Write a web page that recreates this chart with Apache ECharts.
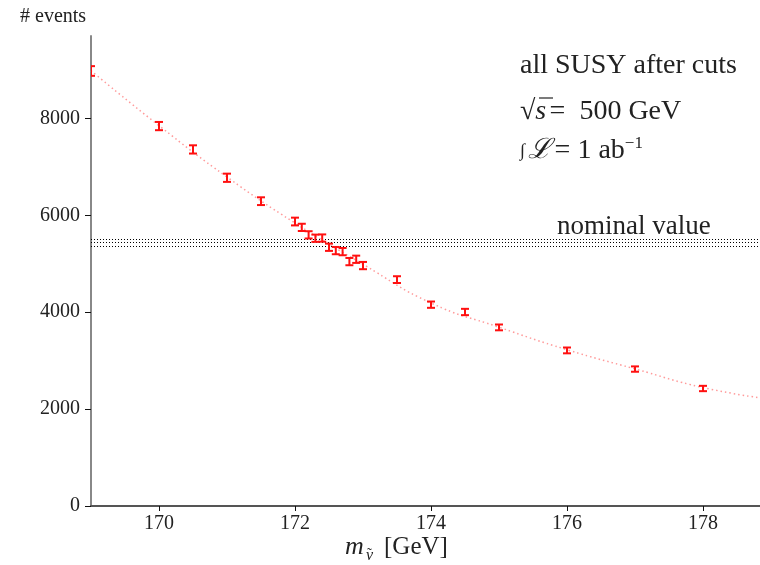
<!DOCTYPE html>
<html><head><meta charset="utf-8">
<script src="https://cdn.jsdelivr.net/npm/echarts@6/dist/echarts.min.js"></script>
<style>html,body{margin:0;padding:0;background:#fff}#c{width:760px;height:565px}</style>
</head><body><div id="c"></div>
<script>
// ---- data ----
const massX  = [169.0,170.0,170.5,171.0,171.5,172.0,172.1,172.2,172.3,172.4,172.5,172.6,172.7,172.8,172.9,173.0,173.5,174.0,174.5,175.0,176.0,177.0,178.0];
const events = [8978,7841,7359,6774,6291,5871,5750,5596,5526,5530,5340,5271,5250,5044,5092,4962,4672,4155,4004,3686,3211,2826,2425];
const errors = [100,85,85,85,80,80,75,75,75,75,75,75,75,75,75,75,70,65,65,60,60,55,55];
const fitX   = [169,170,171,172,173,174,175,176,177,178,179];
const fitY   = [8985,7850,6790,5840,4990,4190,3690,3225,2830,2445,2200];
const nominalLines = [5514,5443,5369];
const xTicks = [170,172,174,176,178];
const yTicks = [0,2000,4000,6000,8000];

const SERIF = "'Liberation Serif','DejaVu Serif',serif";
const chart = echarts.init(document.getElementById('c'), null, {renderer:'canvas'});

const errData = massX.map((x,i)=>[x, events[i], errors[i]]);
const fitData = fitX.map((x,i)=>[x, fitY[i]]);

const option = {
  animation:false,
  backgroundColor:'#fff',
  grid:{left:91, top:36, width:680, height:470, containLabel:false, outerBoundsMode:'none'},
  xAxis:[{
    type:'value', min:169, max:179, position:'bottom',
    axisLine:{show:true, onZero:false, lineStyle:{color:'#777', width:1.5}},
    axisTick:{show:true, customValues:xTicks, length:5, lineStyle:{color:'#111', width:1}},
    axisLabel:{customValues:xTicks, fontFamily:SERIF, fontSize:20, color:'#222', margin:8, formatter:v=>String(v)},
    splitLine:{show:false}
  },{
    type:'value', min:169, max:179, position:'top',
    axisLine:{show:true, lineStyle:{color:'#555', width:2}},
    axisTick:{show:false}, axisLabel:{show:false}, splitLine:{show:false}
  }],
  yAxis:{
    type:'value', min:0, max:9700,
    axisLine:{show:true, lineStyle:{color:'#888', width:2}},
    axisTick:{show:true, customValues:yTicks, length:6, lineStyle:{color:'#111', width:1}},
    axisLabel:{customValues:yTicks, fontFamily:SERIF, fontSize:20, color:'#222', margin:11, formatter:v=>String(v)},
    splitLine:{show:false}
  },
  series:[{
    type:'line', name:'fit', data:fitData, smooth:true, symbol:'none', clip:true,
    lineStyle:{color:'#ff9a9a', width:1.5, type:[1.5,3]},
    markLine:{silent:true, symbol:'none', label:{show:false},
      lineStyle:{color:'#000', width:1, type:[1,2]},
      data: nominalLines.map(v=>({yAxis:v}))},
    z:2
  },{
    type:'custom', name:'events', data:errData, clip:true, z:5,
    encode:{x:0, y:1},
    renderItem:(params, api)=>{
      const x=api.value(0), y=api.value(1), e=api.value(2);
      const t=api.coord([x,y+e]), b=api.coord([x,y-e]);
      const w=4, st={stroke:'#ff1010', lineWidth:2};
      return {type:'group', children:[
        {type:'line', shape:{x1:t[0],y1:t[1],x2:b[0],y2:b[1]}, style:st},
        {type:'line', shape:{x1:t[0]-w,y1:t[1],x2:t[0]+w,y2:t[1]}, style:st},
        {type:'line', shape:{x1:b[0]-w,y1:b[1],x2:b[0]+w,y2:b[1]}, style:st}
      ]};
    }
  }],
  graphic:[
    {type:'text', left:20, top:7, style:{text:'# events', font:"20px "+SERIF, fill:'#222'}},
    // x-axis title: m with subscript nu-tilde and [GeV]
    {type:'text', x:345, y:547, style:{text:'m', font:"italic 26px "+SERIF, fill:'#222', verticalAlign:'middle'}},
    {type:'text', x:366, y:556, style:{text:'ν', font:"italic 16px "+SERIF, fill:'#222', verticalAlign:'middle'}},
    {type:'text', x:367, y:554, style:{text:'˜', font:"15px "+SERIF, fill:'#222', verticalAlign:'middle'}},
    {type:'text', x:384, y:547, style:{text:'[GeV]', font:"25px "+SERIF, fill:'#222', verticalAlign:'middle'}},
    {type:'text', x:520, y:66, style:{text:'all SUSY after cuts', font:"28px "+SERIF, fill:'#222', verticalAlign:'middle'}},
    {type:'text', x:520, y:112, style:{
      text:'{r|√}{s|s} {n|=  500 GeV}', verticalAlign:'middle',
      rich:{r:{fontFamily:SERIF, fontSize:28, fill:'#222'}, s:{fontFamily:SERIF, fontStyle:'italic', fontSize:28, fill:'#222'}, n:{fontFamily:SERIF, fontSize:28, fill:'#222'}}}},
    {type:'line', shape:{x1:539, y1:98, x2:553, y2:98}, style:{stroke:'#222', lineWidth:1.2}},
    {type:'text', x:520, y:151, style:{
      text:'{i|∫} {l|ℒ} {n|= 1 ab}{p|−1}', verticalAlign:'middle',
      rich:{i:{fontFamily:SERIF, fontSize:18, fill:'#222', lineHeight:32}, l:{fontFamily:SERIF, fontStyle:'italic', fontSize:28, fill:'#222', lineHeight:32}, n:{fontFamily:SERIF, fontSize:28, fill:'#222', lineHeight:32}, p:{fontFamily:SERIF, fontSize:17, fill:'#222', lineHeight:32, verticalAlign:'top'}}}},
    {type:'text', x:557, y:227, z:1, style:{text:'nominal value', font:"27px "+SERIF, fill:'#222', verticalAlign:'middle'}}
  ]
};
chart.setOption(option);
</script></body></html>
